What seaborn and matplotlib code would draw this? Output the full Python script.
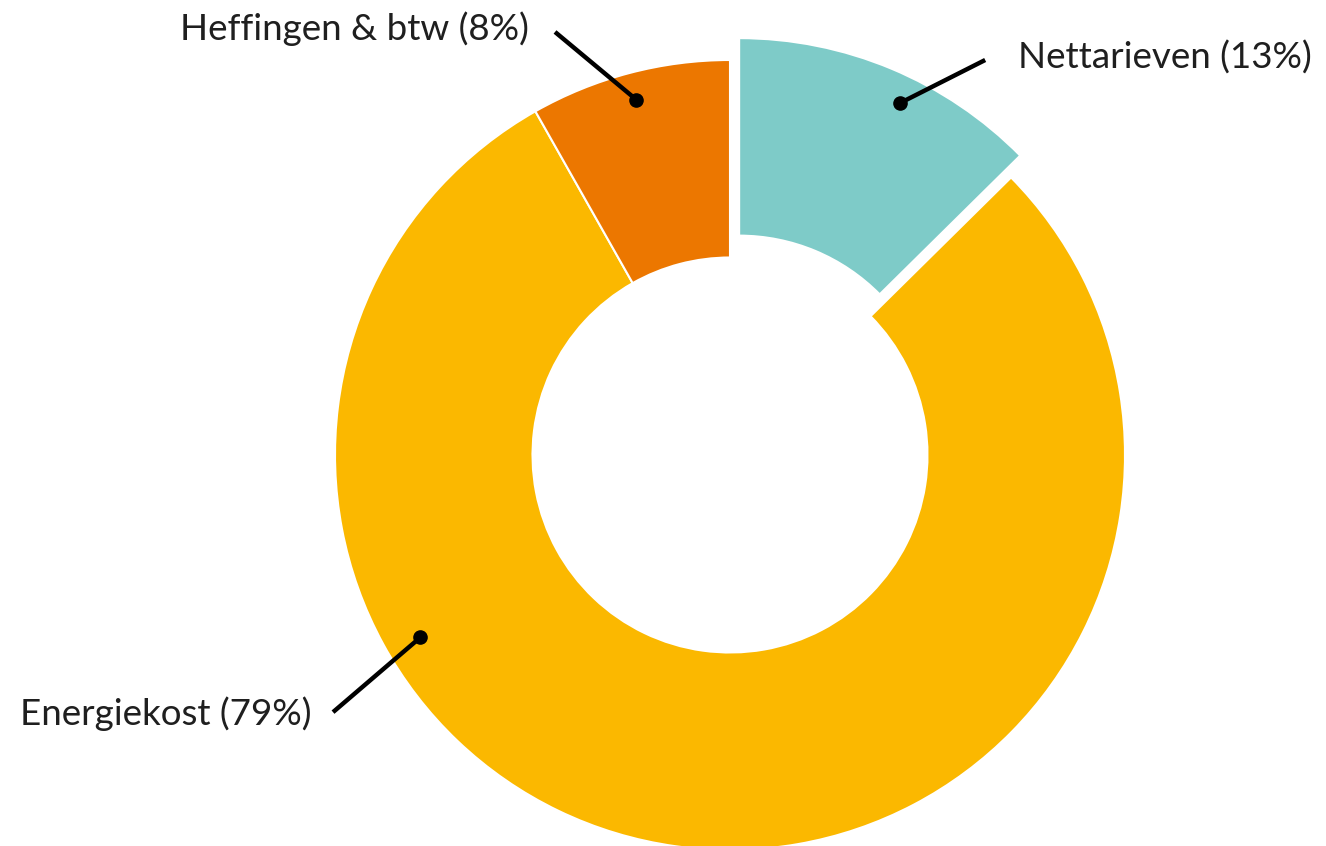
import numpy as np
import matplotlib.pyplot as plt
import seaborn as sns

sns.set_theme(style='white')
plt.rcParams['font.family'] = ['Lato', 'DejaVu Sans']

# Data (clockwise from the top); labels show the rounded shares
categories = ['Nettarieven', 'Energiekost', 'Heffingen & btw']
shares = [12.6, 79.2, 8.2]
colors = ['#7ECBC8', '#FBB800', '#EC7700']
explode = [0.06, 0, 0]

fig = plt.figure(figsize=(13.26, 8.46), dpi=100)
ax = fig.add_axes([0, 0, 1, 1])

wedges, _ = ax.pie(shares, colors=colors, explode=explode, startangle=90,
                   counterclock=False, radius=1.0,
                   wedgeprops=dict(width=0.5, edgecolor='white', linewidth=1.5))

# pixel -> data mapping: 395 px per unit, centre at (730, 455) px
scale = 395.0
ax.set_xlim(-730 / scale, (1326 - 730) / scale)
ax.set_ylim(-(846 - 455) / scale, 455 / scale)
ax.set_aspect('equal')
ax.axis('off')

# Label anchors: angle on the ring, radius, text position, alignment
anchor_angle = [64, 210.5, None]
anchor_r = [0.93, 0.91, 0.93]
text_pos = [(0.73, 1.005), (-1.06, -0.655), (-0.51, 1.08)]
line_end = [(0.646, 1.0), (-1.005, -0.651), (-0.443, 1.071)]
ha = ['left', 'right', 'right']

for w, cat, s, ang, r, tp, le, h in zip(wedges, categories, shares, anchor_angle,
                                         anchor_r, text_pos, line_end, ha):
    if ang is None:
        ang = (w.theta1 + w.theta2) / 2
    cx, cy = w.center
    dx = cx + r * np.cos(np.deg2rad(ang))
    dy = cy + r * np.sin(np.deg2rad(ang))
    ax.plot([dx, le[0]], [dy, le[1]], color='black', lw=3.2, solid_capstyle='butt')
    ax.plot(dx, dy, 'o', color='black', ms=9.5)
    ax.text(tp[0], tp[1], f'{cat} ({round(s)}%)', ha=h, va='center',
            fontsize=26.5, color='#1f1f1f')

fig.savefig('out.png', dpi=100)
